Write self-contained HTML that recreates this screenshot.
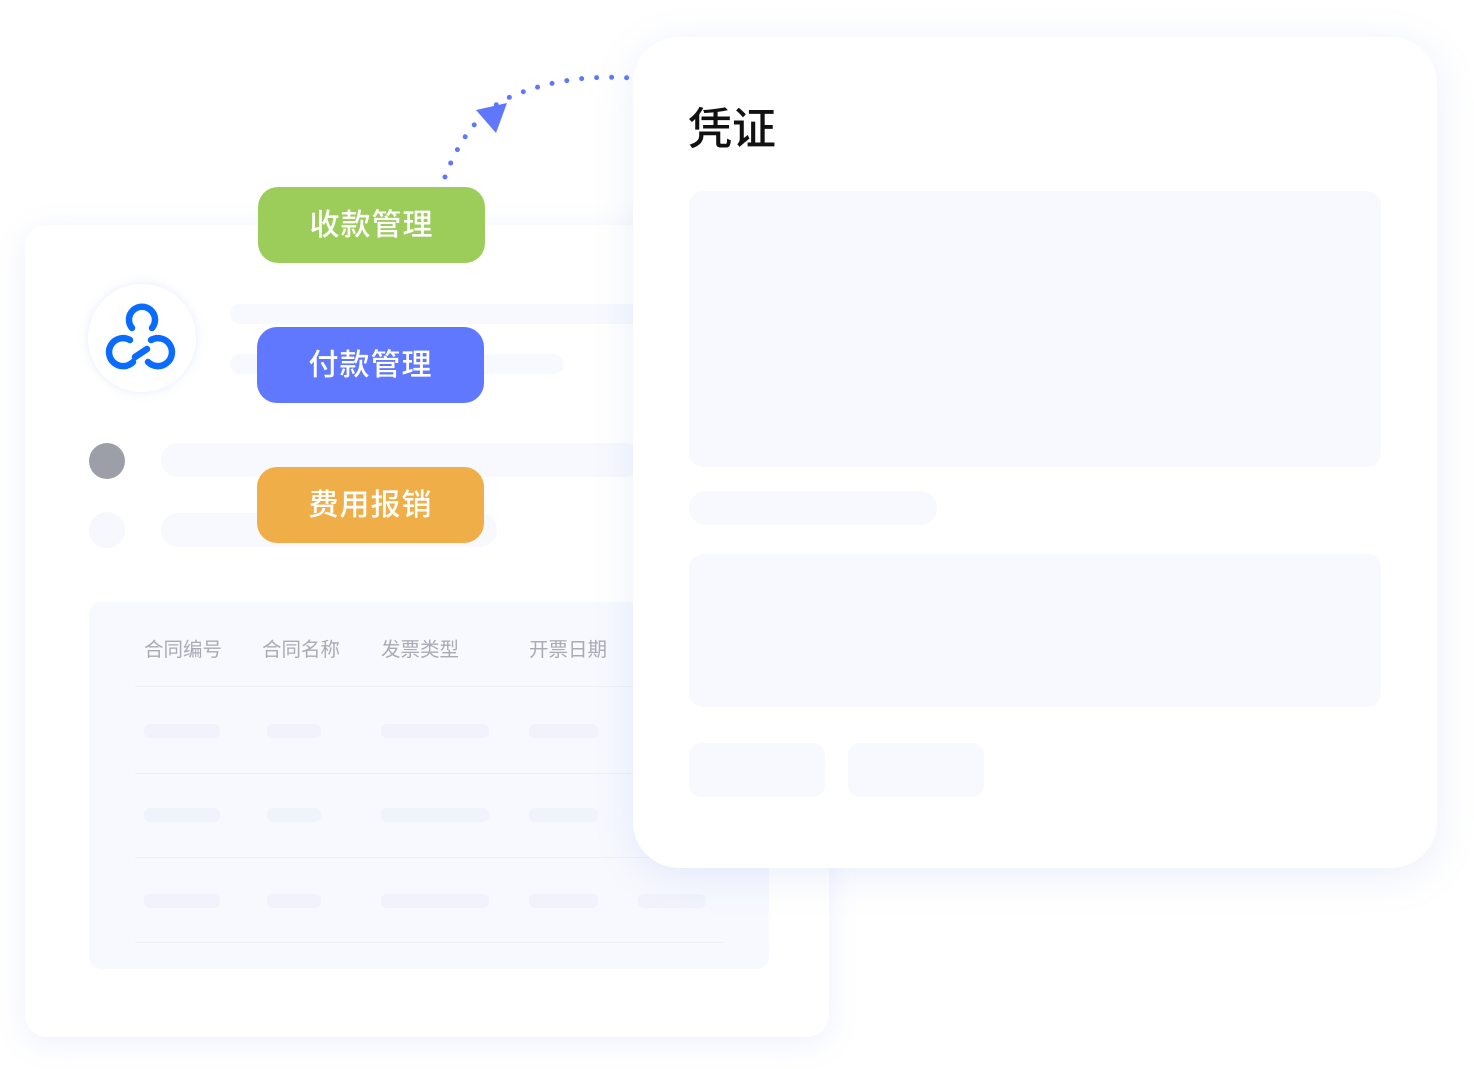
<!DOCTYPE html>
<html><head><meta charset="utf-8"><style>
html,body{margin:0;padding:0;background:#fff;width:1474px;height:1069px;overflow:hidden;font-family:"Liberation Sans","Noto Sans CJK SC",sans-serif;}
.a{position:absolute;}
.card{background:#fff;box-shadow:0 6px 30px rgba(120,150,230,0.13);}
.ph{background:#f7f9fe;border-radius:12px;}
.bar{background:#f1f3fc;border-radius:6px;height:14px;}
.btn{border-radius:20px;color:#fff;font-size:30px;font-weight:500;text-align:center;line-height:78px;height:76px;width:227px;letter-spacing:1px;}
.th{color:#a9abb3;font-size:19.5px;top:633px;}
.ln{height:1px;background:#eef0f8;left:135px;width:589px;}
</style></head><body>
<div class="a card" style="left:25px;top:225px;width:804px;height:812px;border-radius:22px;"></div>
<div class="a ph" style="left:230px;top:304px;width:420px;height:20px;border-radius:10px;"></div>
<div class="a ph" style="left:230px;top:354px;width:334px;height:20px;border-radius:10px;"></div>
<div class="a" style="left:88px;top:284px;width:108px;height:108px;border-radius:50%;background:#fff;box-shadow:0 0 10px rgba(120,150,230,0.18);"></div>
<svg class="a" style="left:88px;top:284px" width="108" height="108">
<g fill="none" stroke="#0a6cff" stroke-width="6.5" stroke-linecap="round">
<path d="M44 44 A13 13 0 1 1 64 44"/>
<path d="M42 56 A14 14 0 1 0 45 78"/>
<path d="M63 56 A14 14 0 1 1 60 78"/>
<path d="M47 73 L59 65"/>
</g></svg>
<div class="a" style="left:89px;top:443px;width:36px;height:36px;border-radius:50%;background:#9c9ea8;"></div>
<div class="a" style="left:89px;top:512px;width:36px;height:36px;border-radius:50%;background:#f6f8fd;"></div>
<div class="a ph" style="left:161px;top:443px;width:480px;height:34px;border-radius:17px;"></div>
<div class="a ph" style="left:161px;top:513px;width:336px;height:34px;border-radius:17px;"></div>
<div class="a ph" style="left:89px;top:602px;width:680px;height:367px;"></div>
<div class="a th" style="left:144px">合同编号</div>
<div class="a th" style="left:262px">合同名称</div>
<div class="a th" style="left:381px">发票类型</div>
<div class="a th" style="left:529px">开票日期</div>
<div class="a ln" style="top:686px"></div>
<div class="a ln" style="top:773px"></div>
<div class="a ln" style="top:857px"></div>
<div class="a ln" style="top:942px"></div>
<div class="a bar" style="left:144px;top:724px;width:76px"></div><div class="a bar" style="left:267px;top:724px;width:54px"></div><div class="a bar" style="left:381px;top:724px;width:108px"></div><div class="a bar" style="left:529px;top:724px;width:69px"></div>
<div class="a bar" style="left:144px;top:808px;width:76px"></div><div class="a bar" style="left:267px;top:808px;width:54px"></div><div class="a bar" style="left:381px;top:808px;width:108px"></div><div class="a bar" style="left:529px;top:808px;width:69px"></div>
<div class="a bar" style="left:144px;top:894px;width:76px"></div><div class="a bar" style="left:267px;top:894px;width:54px"></div><div class="a bar" style="left:381px;top:894px;width:108px"></div><div class="a bar" style="left:529px;top:894px;width:69px"></div><div class="a bar" style="left:638px;top:894px;width:68px"></div>

<div class="a card" style="left:633px;top:37px;width:804px;height:831px;border-radius:46px;box-shadow:0 8px 40px rgba(120,150,230,0.15);"></div>
<div class="a" style="left:688px;top:93px;font-size:44px;color:#111;font-weight:500;">凭证</div>
<div class="a ph" style="left:689px;top:191px;width:692px;height:276px;border-radius:14px;"></div>
<div class="a ph" style="left:689px;top:491px;width:248px;height:34px;border-radius:17px;"></div>
<div class="a ph" style="left:689px;top:554px;width:692px;height:153px;border-radius:14px;"></div>
<div class="a ph" style="left:689px;top:743px;width:136px;height:54px;border-radius:12px;"></div>
<div class="a ph" style="left:848px;top:743px;width:136px;height:54px;border-radius:12px;"></div>

<div class="a btn" style="left:258px;top:187px;background:#9ccd5a;">收款管理</div>
<div class="a btn" style="left:257px;top:327px;background:#6078fe;">付款管理</div>
<div class="a btn" style="left:257px;top:467px;background:#efae47;">费用报销</div>

<svg class="a" style="left:0;top:0" width="1474" height="300">
<path d="M445 177 Q470 110 520 93 Q570 74 630 78" fill="none" stroke="#5f78fb" stroke-width="5" stroke-linecap="round" stroke-dasharray="0 15"/>
<polygon points="476,110 507,103 496,133" fill="#5f78fb"/>
</svg>
</body></html>
